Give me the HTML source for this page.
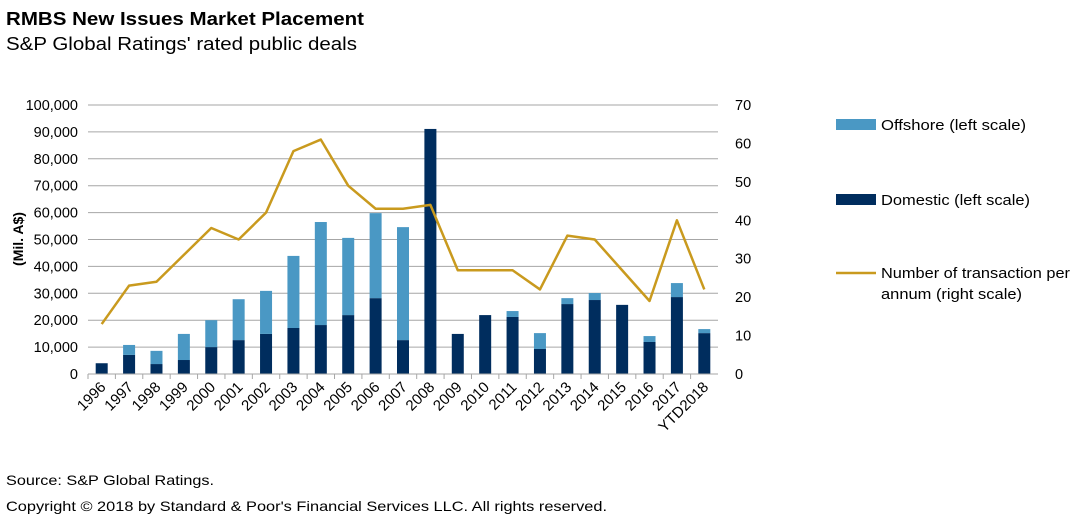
<!DOCTYPE html>
<html><head><meta charset="utf-8">
<style>
body{margin:0;background:#fff;font-family:"Liberation Sans",Arial,sans-serif;}
#wrap{position:relative;width:1080px;height:524px;overflow:hidden;}
</style></head>
<body>
<div id="wrap">
<svg id="chart" width="1080" height="524" xmlns="http://www.w3.org/2000/svg" font-family="Liberation Sans, Arial, sans-serif">
  <text x="6" y="25" font-size="18" font-weight="bold" fill="#000" textLength="358" lengthAdjust="spacingAndGlyphs">RMBS New Issues Market Placement</text>
  <text x="6" y="50" font-size="18" fill="#000" textLength="351" lengthAdjust="spacingAndGlyphs">S&amp;P Global Ratings' rated public deals</text>
  <text transform="translate(23,239) rotate(-90)" text-anchor="middle" font-size="14" font-weight="bold">(Mil. A$)</text>
  <g id="grid"></g>
  <g id="bars"></g>
  <g id="line"></g>
  <g id="axes"></g>
  <g>
    <rect x="836" y="119" width="40" height="11" fill="#4a98c4"/>
    <text x="881" y="130" font-size="15" textLength="145" lengthAdjust="spacingAndGlyphs">Offshore (left scale)</text>
    <rect x="836" y="194" width="40" height="11" fill="#002d5e"/>
    <text x="881" y="205" font-size="15" textLength="149" lengthAdjust="spacingAndGlyphs">Domestic (left scale)</text>
    <line x1="836" y1="273" x2="876" y2="273" stroke="#c99a1e" stroke-width="2.5"/>
    <text x="881" y="278" font-size="15" textLength="189" lengthAdjust="spacingAndGlyphs">Number of transaction per</text>
    <text x="881" y="299" font-size="15" textLength="141" lengthAdjust="spacingAndGlyphs">annum (right scale)</text>
  </g>
  <text x="6" y="485" font-size="14" textLength="208" lengthAdjust="spacingAndGlyphs">Source: S&amp;P Global Ratings.</text>
  <text x="6" y="511" font-size="14" textLength="601" lengthAdjust="spacingAndGlyphs">Copyright © 2018 by Standard &amp; Poor's Financial Services LLC. All rights reserved.</text>
</svg>
</div>
<script>
const categories = ["1996","1997","1998","1999","2000","2001","2002","2003","2004","2005","2006","2007","2008","2009","2010","2011","2012","2013","2014","2015","2016","2017","YTD2018"];
const domestic = [4000,7100,3700,5200,10000,12600,14900,17100,18200,21900,28200,12600,91100,14900,21900,21200,9300,26000,27500,25700,11900,28600,15200];
const offshore = [0,3700,4900,9700,10000,15200,16000,26800,38300,28700,31600,42000,0,0,0,2200,5900,2200,2600,0,2200,5200,1500];
const transactions = [13,23,24,31,38,35,42,58,61,49,43,43,44,27,27,27,22,36,35,27,19,40,22];
const leftTicks = [0,10000,20000,30000,40000,50000,60000,70000,80000,90000,100000];
const rightTicks = [0,10,20,30,40,50,60,70];

const NS="http://www.w3.org/2000/svg";
const X0=88,X1=718,Y0=374,Y1=105;
const step=(X1-X0)/categories.length;
const xC=i=>X0+step*(i+0.5);
const yL=v=>Y0-(v/100000)*(Y0-Y1);
const yR=v=>Y0-(v/70)*(Y0-Y1);
function mk(tag,attrs,parent){const e=document.createElementNS(NS,tag);for(const k in attrs)e.setAttribute(k,attrs[k]);parent.appendChild(e);return e;}
const grid=document.getElementById('grid'),bars=document.getElementById('bars'),line=document.getElementById('line'),axes=document.getElementById('axes');

leftTicks.forEach(v=>{
  const y=yL(v);
  if(v>0){const g=mk('line',{x1:X0,x2:X1,y1:y,y2:y,stroke:'#a6a6a6','stroke-width':1},grid);
  
  }
  const t=mk('text',{x:X0-10,y:y+5,'text-anchor':'end','font-size':14.5},axes);
  t.textContent=v.toLocaleString('en-US');
  
  
});
rightTicks.forEach(v=>{
  const t=mk('text',{x:X1+17,y:yR(v)+5,'font-size':14.5},axes);
  t.textContent=v;
  
  
});
const ax=mk('line',{x1:X0,x2:X1,y1:Y0,y2:Y0,stroke:'#a6a6a6','stroke-width':1},axes);


const bw=12;
categories.forEach((c,i)=>{
  const tx=X0+step*i;
  const tk=mk('line',{x1:tx,x2:tx,y1:Y0,y2:Y0+5,stroke:'#a6a6a6'},axes);
  
  
  const x=xC(i);
  const d=mk('rect',{x:x-bw/2,y:yL(domestic[i]),width:bw,height:Y0-yL(domestic[i]),fill:'#002d5e'},bars);
  
  
  if(offshore[i]>0){
    const top=domestic[i]+offshore[i];
    const o=mk('rect',{x:x-bw/2,y:yL(top),width:bw,height:yL(domestic[i])-yL(top),fill:'#4a98c4'},bars);
    
    
  }
  const t=mk('text',{x:x+5,y:Y0+14,'text-anchor':'end','font-size':15,transform:`rotate(-45 ${x+5} ${Y0+14})`},axes);
  t.textContent=c;
  
  
});
const pts=transactions.map((v,i)=>xC(i)+','+yR(v)).join(' ');
const pl=mk('polyline',{points:pts,fill:'none',stroke:'#c99a1e','stroke-width':2.5,'stroke-linejoin':'round'},line);


</script>
</body></html>
